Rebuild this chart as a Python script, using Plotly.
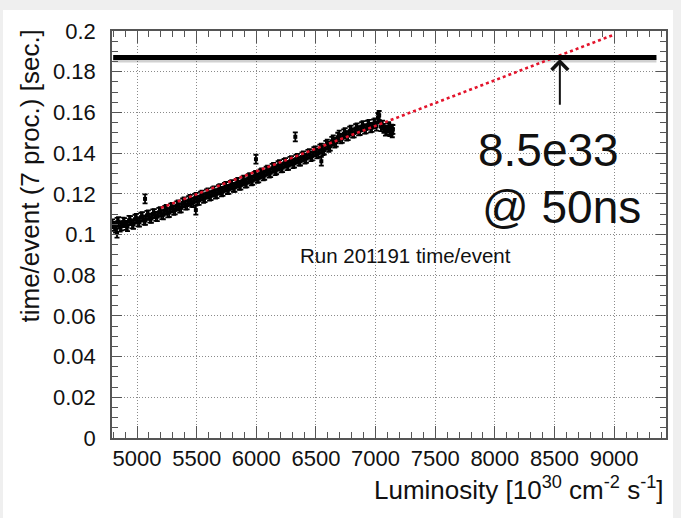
import plotly.graph_objects as go

# Measured processing time per event vs. instantaneous luminosity (run 201191)
lumi = [4795, 4820, 4845, 4870, 4895, 4920, 4945, 4970, 4995, 5020,
        5045, 5070, 5095, 5120, 5145, 5170, 5195, 5220, 5245, 5270,
        5295, 5320, 5345, 5370, 5395, 5420, 5445, 5470, 5495, 5520,
        5545, 5570, 5595, 5620, 5645, 5670, 5695, 5720, 5745, 5770,
        5795, 5820, 5845, 5870, 5895, 5920, 5945, 5970, 5995, 6020,
        6045, 6070, 6095, 6120, 6145, 6170, 6195, 6220, 6245, 6270,
        6295, 6320, 6345, 6370, 6395, 6420, 6445, 6470, 6495, 6520,
        6545, 6570, 6595, 6620, 6645, 6670, 6695, 6720, 6745, 6770,
        6795, 6820, 6845, 6870, 6895, 6920, 6945, 6970, 6995, 7020,
        7030, 7045, 7070, 7095, 7110, 7120, 7135, 7145,
        4808, 4833, 4858, 4883, 4908, 4933, 4958, 4983, 5008, 5033,
        5058, 5083, 5108, 5133, 5158, 5183, 5208, 5233, 5258, 5283,
        5308, 5333, 5358, 5383, 5408, 5433, 5458, 5483, 5508, 5533,
        5558, 5583, 5608, 5633, 5658, 5683, 5708, 5733, 5758, 5783,
        5808, 5833, 5858, 5883, 5908, 5933, 5958, 5983, 6008, 6033,
        6058, 6083, 6108, 6133, 6158, 6183, 6208, 6233, 6258, 6283,
        6308, 6333, 6358, 6383, 6408, 6433, 6458, 6483, 6508, 6533,
        6558, 6583, 6608, 6633, 6658, 6683, 6708, 6733, 6758, 6783,
        6808, 6833, 6858, 6883, 6908, 6933, 6958, 6983, 7008, 7025,
        7058, 7083, 7108, 7128, 7140,
        4832, 5067, 5493, 5997, 6327, 6545]
time = [0.1052, 0.1031, 0.1063, 0.1042, 0.1058, 0.1039, 0.1068, 0.1050, 0.1079, 0.1061,
        0.1088, 0.1069, 0.1097, 0.1079, 0.1103, 0.1088, 0.1112, 0.1097, 0.1124, 0.1108,
        0.1133, 0.1121, 0.1146, 0.1131, 0.1160, 0.1145, 0.1172, 0.1157, 0.1182, 0.1168,
        0.1194, 0.1181, 0.1205, 0.1191, 0.1214, 0.1201, 0.1226, 0.1212, 0.1236, 0.1222,
        0.1245, 0.1232, 0.1256, 0.1243, 0.1267, 0.1254, 0.1279, 0.1266, 0.1290, 0.1278,
        0.1303, 0.1291, 0.1316, 0.1304, 0.1330, 0.1318, 0.1343, 0.1329, 0.1353, 0.1340,
        0.1363, 0.1351, 0.1374, 0.1361, 0.1386, 0.1374, 0.1398, 0.1386, 0.1411, 0.1399,
        0.1425, 0.1415, 0.1444, 0.1434, 0.1465, 0.1454, 0.1488, 0.1472, 0.1501, 0.1486,
        0.1513, 0.1499, 0.1524, 0.1511, 0.1535, 0.1519, 0.1541, 0.1526, 0.1548, 0.1575,
        0.1585, 0.1530, 0.1522, 0.1512, 0.1525, 0.1505, 0.1518, 0.1516,
        0.1040, 0.1060, 0.1036, 0.1061, 0.1045, 0.1070, 0.1052, 0.1075, 0.1062, 0.1085,
        0.1071, 0.1094, 0.1080, 0.1101, 0.1089, 0.1109, 0.1098, 0.1118, 0.1106, 0.1130,
        0.1118, 0.1141, 0.1130, 0.1155, 0.1144, 0.1166, 0.1158, 0.1178, 0.1168, 0.1188,
        0.1178, 0.1200, 0.1189, 0.1210, 0.1199, 0.1220, 0.1210, 0.1231, 0.1221, 0.1241,
        0.1231, 0.1251, 0.1241, 0.1262, 0.1252, 0.1274, 0.1264, 0.1286, 0.1276, 0.1298,
        0.1288, 0.1311, 0.1302, 0.1325, 0.1314, 0.1338, 0.1328, 0.1349, 0.1338, 0.1359,
        0.1348, 0.1370, 0.1360, 0.1381, 0.1371, 0.1394, 0.1383, 0.1407, 0.1396, 0.1420,
        0.1412, 0.1438, 0.1428, 0.1458, 0.1449, 0.1478, 0.1470, 0.1495, 0.1484, 0.1508,
        0.1498, 0.1520, 0.1509, 0.1530, 0.1518, 0.1537, 0.1524, 0.1544, 0.1532, 0.1568,
        0.1538, 0.1508, 0.1530, 0.1510, 0.1500,
        0.1007, 0.1175, 0.1120, 0.1370, 0.1480, 0.1360]
time_err = 0.0022

# Linear fit to the measurements, extrapolated to higher luminosity
fit_intercept = -0.0034
fit_slope = 2.24e-5
fit_lumi = [5200, 9000]
fit_time = [fit_intercept + fit_slope * v for v in fit_lumi]

# Time budget per event and the luminosity at which it is reached
budget_time = 0.187
budget_lumi = [4800, 9355]
reach_lumi = 8545
arrow_tail_time = 0.163

x_ticks = [5000, 5500, 6000, 6500, 7000, 7500, 8000, 8500, 9000]
y_ticks = [0, 0.02, 0.04, 0.06, 0.08, 0.1, 0.12, 0.14, 0.16, 0.18, 0.2]

FONT = "Liberation Sans, Arial, sans-serif"
FRAME = "#555555"

fig = go.Figure()

# soft shadow under the budget line
fig.add_trace(go.Scatter(
    x=budget_lumi, y=[budget_time - 0.0012] * 2, mode="lines",
    line=dict(color="rgba(0,0,0,0.18)", width=5), hoverinfo="skip", showlegend=False))

fig.add_trace(go.Scatter(
    x=lumi, y=time, mode="markers",
    marker=dict(color="black", size=4, symbol="square"),
    error_y=dict(type="constant", value=time_err, color="black", thickness=1.8, width=2.5),
    showlegend=False))

fig.add_trace(go.Scatter(
    x=fit_lumi, y=fit_time, mode="lines",
    line=dict(color="#e3132b", width=2.6, dash="dot"), showlegend=False))

fig.add_trace(go.Scatter(
    x=budget_lumi, y=[budget_time] * 2, mode="lines",
    line=dict(color="black", width=5), showlegend=False))

axis_common = dict(
    showline=True, linecolor=FRAME, linewidth=1.5, mirror="allticks",
    ticks="inside", tickcolor=FRAME, tickwidth=1.2,
    showgrid=True, gridcolor="#8a8a8a", gridwidth=1, griddash="1px,2px",
    zeroline=False,
)

fig.update_xaxes(
    range=[4790, 9435], tickvals=x_ticks, ticktext=[str(v) for v in x_ticks],
    ticklen=12, ticklabelstandoff=0,
    tickfont=dict(family=FONT, size=22, color="#111111"),
    minor=dict(dtick=100, ticks="inside", ticklen=6, tickcolor=FRAME, showgrid=False),
    **axis_common)
fig.update_yaxes(
    range=[0, 0.2], tickvals=y_ticks, ticktext=[f"{v:g}" for v in y_ticks],
    ticklen=10, ticklabelstandoff=10,
    tickfont=dict(family=FONT, size=22, color="#111111"),
    minor=dict(dtick=0.005, ticks="inside", ticklen=6, tickcolor=FRAME, showgrid=False),
    **axis_common)

annotations = [
    dict(x=reach_lumi, y=budget_time - 0.0008, ax=reach_lumi, ay=arrow_tail_time,
         xref="x", yref="y", axref="x", ayref="y", text="", showarrow=True,
         arrowhead=4, arrowsize=1.6, arrowwidth=2, arrowcolor="#111111"),
    dict(x=8452, y=0.1415, xref="x", yref="y", text="8.5e33", showarrow=False,
         font=dict(family=FONT, size=46, color="#111111")),
    dict(x=8561, y=0.1135, xref="x", yref="y", text="@ 50ns", showarrow=False,
         font=dict(family=FONT, size=46, color="#111111")),
    dict(x=7251, y=0.0899, xref="x", yref="y", text="Run 201191 time/event",
         showarrow=False, font=dict(family=FONT, size=20.5, color="#111111")),
    dict(x=1.0, y=-0.123, xref="paper", yref="paper", xanchor="right", yanchor="middle",
         text="Luminosity [10<sup>30</sup> cm<sup>-2</sup> s<sup>-1</sup>]", showarrow=False,
         font=dict(family=FONT, size=26, color="#111111")),
    dict(x=-0.148, y=1.0074, xref="paper", yref="paper", xanchor="center", yanchor="top",
         text="time/event (7 proc.) [sec.]", textangle=-90, showarrow=False,
         font=dict(family=FONT, size=26, color="#111111")),
]

fig.update_layout(
    width=681, height=518,
    margin=dict(l=112, r=15, t=31, b=80),
    paper_bgcolor="#efefef", plot_bgcolor="white",
    annotations=annotations,
    shapes=[dict(type="rect", xref="paper", yref="paper",
                 x0=-0.1968, x1=1.0126, y0=-0.1966, y1=1.0516,
                 fillcolor="white", line=dict(width=0), layer="below")],
)

fig.write_html("out.html")
